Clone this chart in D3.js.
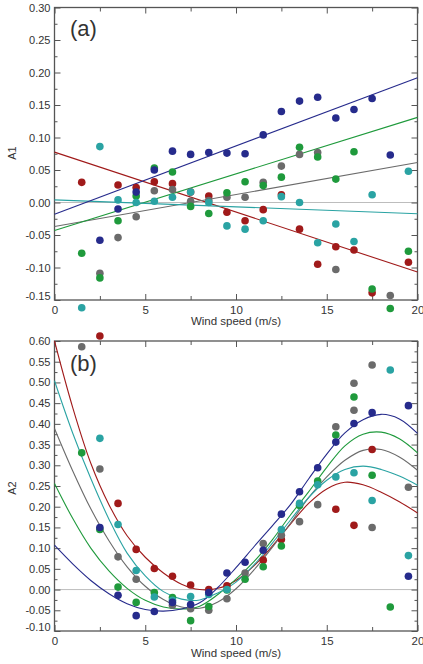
<!DOCTYPE html>
<html><head><meta charset="utf-8">
<script src="https://cdn.jsdelivr.net/npm/d3@7/dist/d3.min.js"></script>
<style>
body{margin:0;background:#fff;}
svg text{font-family:"Liberation Sans",Arial,sans-serif;fill:#333;}
</style>
</head><body>
<svg id="chart" width="423" height="664"></svg>
<script>
// ---------------- DATA ----------------
const windBins = [1.5,2.5,3.5,4.5,5.5,6.5,7.5,8.5,9.5,10.5,11.5,12.5,13.5,14.5,15.5,16.5,17.5,18.5,19.5];
const windTicks = [0,5,10,15,20];
const a1Ticks = [-0.15,-0.10,-0.05,0.00,0.05,0.10,0.15,0.20,0.25,0.30];
const a2Ticks = [-0.10,-0.05,0.00,0.05,0.10,0.15,0.20,0.25,0.30,0.35,0.40,0.45,0.50,0.55,0.60];
const seriesNames = ["red","grey","green","teal","blue"];
const seriesColors = {blue:"#262b8c", green:"#1f9a3c", grey:"#6b6b6b", teal:"#2aa3a3", red:"#a01a1a"};

// A1 points (per wind bin)
const a1Blue  = [null,-0.058,-0.010,0.016,0.050,0.079,0.074,0.077,0.076,0.075,0.104,0.140,0.156,0.162,0.130,0.143,0.160,0.073,null];
const a1Green = [-0.078,-0.116,-0.028,0.010,0.053,0.047,-0.006,-0.017,0.015,0.032,0.026,0.039,0.085,0.070,0.036,0.078,-0.133,-0.163,-0.075];
const a1Grey  = [null,-0.109,-0.054,-0.022,0.018,0.020,0.002,0.003,0.008,0.008,0.031,0.056,0.074,0.077,-0.103,null,null,-0.143,null];
const a1Teal  = [-0.162,0.086,0.004,0.000,0.002,0.008,0.016,0.000,-0.036,-0.041,-0.028,0.009,0.000,-0.062,-0.033,-0.060,0.012,null,0.048];
const a1Red   = [0.031,null,0.027,0.023,0.032,0.029,0.016,0.010,-0.015,-0.028,-0.011,0.012,-0.041,-0.095,-0.068,-0.073,-0.139,null,-0.092];

// A1 linear fits (value at wind speed 0 and 20)
const a1FitX = [0,20];
const a1FitBlue  = [-0.018,0.192];
const a1FitGreen = [-0.043,0.131];
const a1FitGrey  = [-0.037,0.0615];
const a1FitTeal  = [0.004,-0.0174];
const a1FitRed   = [0.0775,-0.107];

// A2 points (per wind bin)
const a2Blue  = [null,0.150,-0.014,-0.063,-0.053,-0.031,-0.036,-0.007,0.040,0.066,0.095,0.182,0.236,0.294,0.356,0.401,0.427,null,0.444];
const a2Green = [0.330,0.145,0.006,-0.031,-0.007,-0.019,-0.075,-0.041,-0.001,0.025,0.055,0.105,0.203,0.262,0.373,0.465,0.276,-0.042,null];
const a2Grey  = [0.586,0.291,0.079,0.025,null,-0.038,-0.046,-0.050,-0.022,0.040,0.111,0.131,0.164,0.205,0.393,0.433,0.542,null,0.247];
const a2Teal  = [null,0.365,0.157,0.046,-0.018,-0.026,-0.017,-0.012,0.000,null,null,0.145,0.208,0.253,0.272,0.282,0.215,0.530,0.082];
const a2Red   = [null,0.612,0.208,0.097,0.051,0.032,0.011,0.000,0.009,null,0.071,0.121,null,null,0.194,0.155,0.338,null,null];
// additional A2 points sharing a bin
const a2ExtraSeries = ["grey","grey","blue"];
const a2ExtraWind   = [16.5,17.5,19.5];
const a2ExtraValue  = [0.498,0.150,0.032];

// A2 polynomial fits, read at integer wind speeds 0..20
const a2FitX = [0,1,2,3,4,5,6,7,8,9,10,11,12,13,14,15,16,17,18,19,20];
const a2FitBlue  = [0.107,0.062,0.022,-0.010,-0.034,-0.048,-0.052,-0.047,-0.032,0.005,0.053,0.104,0.154,0.205,0.267,0.327,0.378,0.410,0.423,0.412,0.377];
const a2FitGreen = [0.256,0.172,0.100,0.045,0.003,-0.026,-0.042,-0.047,-0.040,-0.012,0.025,0.068,0.120,0.180,0.236,0.295,0.347,0.375,0.380,0.364,0.330];
const a2FitGrey  = [0.389,0.287,0.195,0.118,0.055,0.008,-0.024,-0.042,-0.045,-0.030,0.002,0.048,0.102,0.160,0.222,0.272,0.312,0.336,0.338,0.320,0.288];
const a2FitTeal  = [0.504,0.378,0.268,0.170,0.088,0.033,-0.005,-0.023,-0.025,-0.008,0.018,0.060,0.112,0.168,0.222,0.264,0.290,0.298,0.290,0.274,0.252];
const a2FitRed   = [0.600,0.440,0.305,0.205,0.130,0.078,0.040,0.013,0.000,0.003,0.022,0.058,0.105,0.158,0.208,0.243,0.259,0.253,0.235,0.212,0.185];

// ---------------- DRAW ----------------
const svg = d3.select("#chart");
const x = d3.scaleLinear().domain([0,20]).range([54.5,417.5]);
const frameColor = "#555";
const fmt = v => (Math.round(v*100)/100).toFixed(2).replace("-0.00","0.00");

function minorTicks(major, step){
  const out=[];
  for(let i=0;i<major.length-1;i++) out.push(+(major[i]+step).toFixed(4));
  return out;
}

function panel(opt){
  const y = d3.scaleLinear().domain(opt.yDomain).range(opt.yRange);
  const g = svg.append("g");
  const [x0,x1] = x.range();
  const [yb,yt] = opt.yRange;

  // zero line
  g.append("line").attr("x1",x0).attr("x2",x1).attr("y1",y(0)).attr("y2",y(0))
    .attr("stroke","#bdbdbd").attr("stroke-width",1);

  // axes
  const yMin = minorTicks(opt.yTicks, 0.025);
  const xMin = minorTicks(windTicks, 2.5);
  const left = g.append("g").attr("transform",`translate(${x0},0)`)
    .call(d3.axisLeft(y).tickValues(opt.yTicks).tickSizeInner(-6).tickSizeOuter(0).tickPadding(4).tickFormat(fmt));
  left.selectAll("text").attr("font-size",11).attr("fill","#333")
    .attr("dy", d => Math.abs(d-opt.yDomain[0])<1e-9 ? "-0.05em" : "0.32em");
  g.append("g").attr("transform",`translate(${x0},0)`)
    .call(d3.axisLeft(y).tickValues(yMin).tickSizeInner(-3).tickSizeOuter(0).tickFormat(""));
  g.append("g").attr("transform",`translate(${x1},0)`)
    .call(d3.axisRight(y).tickValues(opt.yTicks).tickSizeInner(-6).tickSizeOuter(0).tickFormat(""));
  g.append("g").attr("transform",`translate(${x1},0)`)
    .call(d3.axisRight(y).tickValues(yMin).tickSizeInner(-3).tickSizeOuter(0).tickFormat(""));
  const bottom = g.append("g").attr("transform",`translate(0,${yb})`)
    .call(d3.axisBottom(x).tickValues(windTicks).tickSizeInner(-6).tickSizeOuter(0).tickPadding(6).tickFormat(d3.format("d")));
  bottom.selectAll("text").attr("font-size",11.5).attr("fill","#333");
  g.append("g").attr("transform",`translate(0,${yb})`)
    .call(d3.axisBottom(x).tickValues(xMin).tickSizeInner(-4).tickSizeOuter(0).tickFormat(""));
  g.append("g").attr("transform",`translate(0,${yt})`)
    .call(d3.axisTop(x).tickValues(windTicks).tickSizeInner(-6).tickSizeOuter(0).tickFormat(""));
  g.append("g").attr("transform",`translate(0,${yt})`)
    .call(d3.axisTop(x).tickValues(xMin).tickSizeInner(-4).tickSizeOuter(0).tickFormat(""));
  g.selectAll(".domain").remove();
  g.selectAll(".tick line").attr("stroke",frameColor).attr("stroke-width",1);

  g.append("rect").attr("x",x0).attr("y",yt).attr("width",x1-x0).attr("height",yb-yt)
    .attr("fill","none").attr("stroke",frameColor).attr("stroke-width",1.3);

  // fits
  const line = d3.line().x(d=>x(d[0])).y(d=>y(d[1])).curve(opt.curve);
  seriesNames.forEach(s=>{
    const vals = opt.fits[s];
    g.append("path").datum(opt.fitX.map((xv,i)=>[xv,vals[i]]))
      .attr("d",line).attr("fill","none").attr("stroke",seriesColors[s]).attr("stroke-width",1.1);
  });

  // points
  seriesNames.forEach(s=>{
    const pts = windBins.map((w,i)=>[w,opt.points[s][i]]).filter(d=>d[1]!==null);
    g.selectAll(null).data(pts).enter().append("circle")
      .attr("cx",d=>x(d[0])).attr("cy",d=>y(d[1])).attr("r",3.8)
      .attr("fill",seriesColors[s]);
  });
  if(opt.extra){
    opt.extra.forEach(d=>{
      g.append("circle").attr("cx",x(d[1])).attr("cy",y(d[2])).attr("r",3.8).attr("fill",seriesColors[d[0]]);
    });
  }

  // labels
  g.append("text").attr("x",70).attr("y",opt.tagY).attr("font-size",22).text(opt.tag);
  g.append("text").attr("transform",`translate(16,${opt.titleY}) rotate(-90)`)
    .attr("text-anchor","middle").attr("font-size",11).text(opt.yTitle);
  g.append("text").attr("x",(x0+x1)/2).attr("y",opt.xTitleY).attr("text-anchor","middle")
    .attr("font-size",11.5).text("Wind speed (m/s)");
}

panel({
  yDomain:[-0.15,0.30], yRange:[300,7.5], yTicks:a1Ticks,
  fitX:a1FitX, curve:d3.curveLinear,
  fits:{blue:a1FitBlue,green:a1FitGreen,grey:a1FitGrey,teal:a1FitTeal,red:a1FitRed},
  points:{blue:a1Blue,green:a1Green,grey:a1Grey,teal:a1Teal,red:a1Red},
  tag:"(a)", tagY:36, yTitle:"A1", titleY:153, xTitleY:325
});
panel({
  yDomain:[-0.10,0.60], yRange:[631,341], yTicks:a2Ticks,
  fitX:a2FitX, curve:d3.curveCatmullRom,
  fits:{blue:a2FitBlue,green:a2FitGreen,grey:a2FitGrey,teal:a2FitTeal,red:a2FitRed},
  points:{blue:a2Blue,green:a2Green,grey:a2Grey,teal:a2Teal,red:a2Red},
  extra:a2ExtraSeries.map((s,i)=>[s,a2ExtraWind[i],a2ExtraValue[i]]),
  tag:"(b)", tagY:371, yTitle:"A2", titleY:488, xTitleY:657
});
</script>
</body></html>
